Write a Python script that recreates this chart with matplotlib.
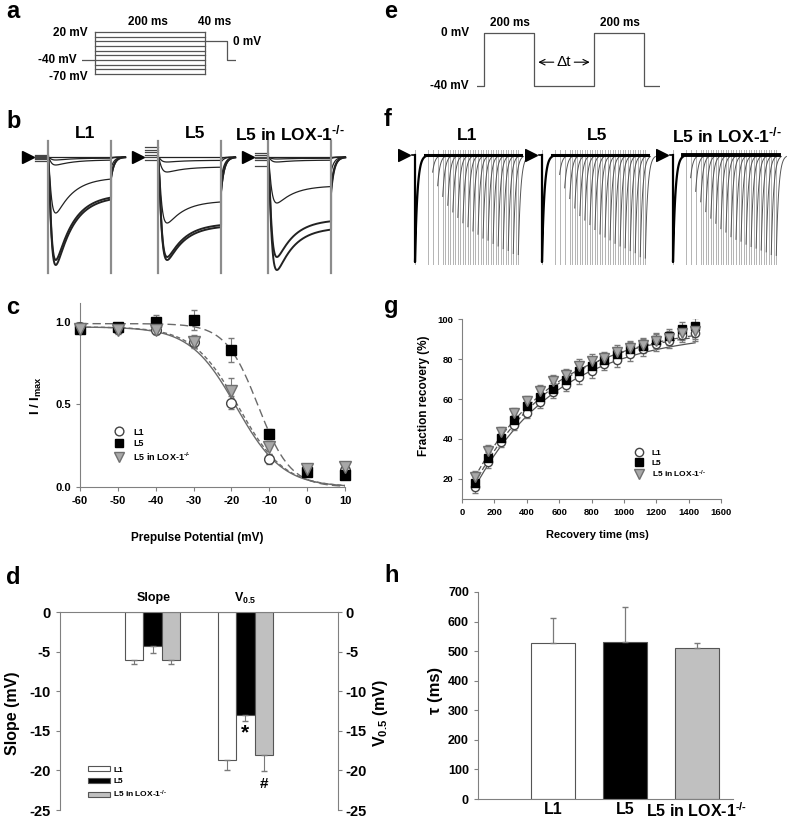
import numpy as np
import matplotlib
matplotlib.use("Agg")
import matplotlib.pyplot as plt
from matplotlib.patches import Patch

plt.rcParams.update({
    "font.family": ["Liberation Sans", "DejaVu Sans"],
    "font.weight": "bold",
    "axes.labelweight": "bold",
    "axes.unicode_minus": False,
    "mathtext.fontset": "custom",
    "mathtext.rm": "Liberation Sans",
    "mathtext.it": "Liberation Sans:bold",
    "mathtext.bf": "Liberation Sans:bold",
    "mathtext.default": "bf",
    "axes.edgecolor": "#808080",
    "xtick.color": "#808080",
    "ytick.color": "#808080",
    "xtick.labelcolor": "black",
    "ytick.labelcolor": "black",
})

GROUPS = ["L1", "L5", r"L5 in LOX-1$^{\text{-/-}}$"]
BAR_FACE = ["white", "black", "#c0c0c0"]
ERR = "#7a7a7a"

# a: steady-state inactivation protocol
prepulse_levels = [-70, -60, -50, -40, -30, -20, -10, 0, 10, 20]
hold_mv, test_mv = -40, 0
prepulse_ms, test_ms = 200, 40

# e: recovery protocol
pulse_ms, gap_ms = 200, 240

# b: representative current traces (peak depth, relative units)
trace_peaks = [[1.08, 1.03, 0.56, 0.08, 0.03, 0.0],
               [1.03, 1.00, 0.66, 0.15, 0.05, 0.0],
               [1.13, 1.00, 0.46, 0.05, 0.02, 0.0]]
trace_hold = [[0.02, 0.0, -0.02, -0.04, 0.01, -0.01],
              [0.10, 0.05, 0.0, -0.03, 0.07, 0.02],
              [0.04, 0.0, -0.03, -0.09, 0.02, -0.01]]
trace_resid = [0.24, 0.50, 0.46]

# c: steady-state inactivation
prepulse_mv = [-60, -50, -40, -30, -20, -10, 0, 10]
inact_l1 = [0.97, 0.96, 0.95, 0.88, 0.51, 0.17, 0.10, 0.10]
inact_l1_err = [0.02, 0.01, 0.02, 0.03, 0.04, 0.03, 0.02, 0.02]
inact_l5 = [0.96, 0.97, 1.00, 1.01, 0.83, 0.32, 0.09, 0.07]
inact_l5_err = [0.02, 0.01, 0.04, 0.06, 0.07, 0.03, 0.02, 0.02]
inact_lox = [0.96, 0.95, 0.95, 0.88, 0.58, 0.24, 0.11, 0.12]
inact_lox_err = [0.02, 0.02, 0.02, 0.04, 0.08, 0.04, 0.02, 0.02]
fit_top = [0.97, 0.99, 0.97]

# d: Boltzmann parameters
slope_mean = [-6.1, -4.3, -6.0]
slope_err = [0.5, 0.9, 0.6]
v05_mean = [-18.7, -13.0, -18.1]
v05_err = [1.2, 0.7, 2.0]

# g: recovery from inactivation
recovery_ms = [80, 160, 240, 320, 400, 480, 560, 640, 720, 800, 880, 960,
               1040, 1120, 1200, 1280, 1360, 1440]
rec_l1 = [16, 28.7, 38.7, 47, 53.2, 58.3, 63.3, 67, 71, 74, 77.6, 79.6,
          82.6, 85, 87.5, 89.2, 92, 93]
rec_l5 = [18.2, 30.7, 40.7, 49.5, 56.6, 60.8, 65, 69.6, 73.8, 76.6, 79.3, 82.5,
          85, 86.7, 89.3, 91.3, 95, 96.3]
rec_lox = [21.2, 34, 43.7, 52.9, 59, 63.8, 68.8, 72, 76.3, 78.8, 80.5, 83.3,
           85.5, 87, 88.8, 90.5, 93, 93.8]
rec_err = [3, 3, 2.5, 2.5, 2.5, 3, 3, 3, 3.5, 3.5, 3, 3.5, 3.5, 3.5, 3.5, 3.5, 3.5, 4]
rec_fit_y0 = [16, 18, 21]
rec_fit_amp = [78, 80, 75]

# h: recovery time constant
tau_mean = [527, 532, 511]
tau_err = [85, 117, 17]

W, H = 787, 825
fig = plt.figure(figsize=(W / 100, H / 100), dpi=100)


def box(x0, y0, x1, y1):
    return fig.add_axes([x0 / W, 1 - y1 / H, (x1 - x0) / W, (y1 - y0) / H])


def txt(x, y, s, size=8.5, ha="center", va="center", **kw):
    fig.text(x / W, 1 - y / H, s, fontsize=size, ha=ha, va=va, **kw)


for lab, x, y in [("a", 6, 12), ("b", 6, 121), ("c", 6, 308), ("d", 6, 577),
                  ("e", 384, 12), ("f", 384, 120), ("g", 384, 306), ("h", 384, 575)]:
    txt(x, y, lab, size=17, ha="left")

# ---------- a ----------
ax = box(82, 28, 236, 78)
ax.axis("off")
ax.set_xlim(-23.6, 256.4); ax.set_ylim(-78.6, 28.6)
pc = "#555555"
for v in prepulse_levels:
    ax.plot([0, prepulse_ms], [v, v], color=pc, lw=0.9)
for x in (0, prepulse_ms):
    ax.plot([x, x], [min(prepulse_levels), max(prepulse_levels)], color=pc, lw=0.9)
ax.plot([-23.6, 0], [hold_mv, hold_mv], color=pc, lw=0.9)
ax.plot([prepulse_ms, prepulse_ms + test_ms, prepulse_ms + test_ms, 254],
        [test_mv, test_mv, hold_mv, hold_mv], color=pc, lw=0.9)
txt(88, 33, "20 mV", ha="right")
txt(148, 22, "200 ms")
txt(215, 22, "40 ms")
txt(233, 42, "0 mV", ha="left")
txt(57, 60, "-40 mV")
txt(88, 77, "-70 mV", ha="right")

# ---------- e ----------
ax = box(477, 28, 660, 92)
ax.axis("off")
ax.set_xlim(-28, 704); ax.set_ylim(-44.5, 3.8)
t2 = pulse_ms + gap_ms
ax.plot([-28, 0, 0, pulse_ms, pulse_ms, t2, t2, t2 + pulse_ms, t2 + pulse_ms, 700],
        [hold_mv, hold_mv, 0, 0, hold_mv, hold_mv, 0, 0, hold_mv, hold_mv],
        color=pc, lw=0.9)
ax.text((pulse_ms + t2) / 2, -22, "Δt", ha="center", va="center", fontsize=11,
        fontweight="normal")
ax.annotate("", xy=(pulse_ms + 6, -22), xytext=(290, -22),
            arrowprops=dict(arrowstyle="->", lw=0.8, color="k"))
ax.annotate("", xy=(t2 - 6, -22), xytext=(350, -22),
            arrowprops=dict(arrowstyle="->", lw=0.8, color="k"))
txt(469, 33, "0 mV", ha="right")
txt(469, 86, "-40 mV", ha="right")
txt(510, 23, "200 ms")
txt(620, 23, "200 ms")

# ---------- b ----------
t_on = np.linspace(0, test_ms, 300)
t_off = np.linspace(test_ms, 49, 60)
for k, left in enumerate([15, 125, 235]):
    ax = box(left, 138, left + 120, 280)
    ax.axis("off")
    ax.set_xlim(-20.95, 55.2); ax.set_ylim(-1.23, 0.19)
    for amp, hold in zip(trace_peaks[k], trace_hold[k]):
        act = (1 - np.exp(-t_on / 1.6)) ** 2
        shape = act * (trace_resid[k] + (1 - trace_resid[k]) * np.exp(-t_on / 11.0))
        cur = -amp * shape / shape.max()
        tail = cur[-1] * 0.5 * np.exp(-(t_off - test_ms) / 2.0)
        ax.plot([-8, 0], [hold, hold], color="#444444", lw=0.9)
        ax.plot(np.r_[t_on, t_off], np.r_[cur, tail], color="#222222",
                lw=1.4 if amp > 0.9 else 0.9)
    for x in (0, test_ms):
        ax.plot([x, x], [0.16, -1.16], color="#8c8c8c", lw=1.6)
    ax.plot([-13], [0], marker=">", color="k", ms=8, ls="none")
txt(85, 133, GROUPS[0], size=12.5)
txt(195, 133, GROUPS[1], size=12.5)
txt(290, 133, GROUPS[2], size=12.5)

# ---------- f ----------
onsets = pulse_ms + np.array(recovery_ms)
t_p = np.linspace(0, 160, 70)
for k, (left, frac) in enumerate(zip([398, 525, 656], [rec_l1, rec_l5, rec_lox])):
    ax = box(left, 138, left + 137, 275)
    ax.axis("off")
    ax.set_xlim(-270, 1905); ax.set_ylim(-1.121, 0.159)
    offs = onsets + pulse_ms
    for x in np.r_[0, pulse_ms, onsets, offs[offs < onsets[-1]]]:
        ax.plot([x, x], [0.05, -1.02], color="#b4b4b4", lw=0.7)
    for on, f in zip(onsets, frac):
        ax.plot(on + t_p, -f / 100 * np.exp(-t_p / 38), color="#555555", lw=0.7)
    ax.plot([-40, 0], [0, 0], color="k", lw=1.2)
    ax.plot(np.r_[0, t_p], np.r_[0, -np.exp(-t_p / 38)], color="k", lw=1.6)
    ax.plot([t_p[-1], onsets[-1] + 40], [0, 0], color="k", lw=2.8 if k == 2 else 2.2)
    ax.plot([-170], [0], marker=">", color="k", ms=8, ls="none")
txt(467, 135, GROUPS[0], size=12.5)
txt(597, 135, GROUPS[1], size=12.5)
txt(727, 135, GROUPS[2], size=12.5)

# ---------- c ----------
ax = box(80, 303, 345, 487)
styles = [dict(marker="o", mfc="white", mec="#444444", ms=7),
          dict(marker="s", mfc="black", mec="black", ms=6.5),
          dict(marker="v", mfc="#a8a8a8", mec="#707070", ms=8)]
fit_ls = ["-", (0, (6, 3)), (0, (3, 2))]
V = np.linspace(-60, 10, 300)
handles = []
for i, (y, e) in enumerate([(inact_l1, inact_l1_err), (inact_l5, inact_l5_err),
                            (inact_lox, inact_lox_err)]):
    ax.plot(V, fit_top[i] / (1 + np.exp(-(V - v05_mean[i]) / slope_mean[i])),
            color="#6a6a6a", lw=1.0, ls=fit_ls[i])
    ax.errorbar(prepulse_mv, y, yerr=e, fmt="none", ecolor=ERR, elinewidth=0.8,
                capsize=2.5, clip_on=False)
for i, y in enumerate([inact_l1, inact_l5, inact_lox]):
    h, = ax.plot(prepulse_mv, y, ls="none", clip_on=False, zorder=5, **styles[i])
    handles.append(h)
ax.set_xlim(-60, 10); ax.set_ylim(0, 1.115)
ax.set_xticks(range(-60, 11, 10))
ax.set_yticks([0, 0.5, 1.0]); ax.set_yticklabels(["0.0", "0.5", "1.0"])
ax.tick_params(labelsize=8, length=3)
for s in ("top", "right"):
    ax.spines[s].set_visible(False)
ax.legend(handles, GROUPS, loc="upper left", bbox_to_anchor=(106 / W, 1 - 424 / H),
          bbox_transform=fig.transFigure, frameon=False, fontsize=6.5,
          handletextpad=0.6, labelspacing=0.25, markerscale=0.9, borderaxespad=0)
txt(36, 395, "I / I$_{max}$", size=9.5, rotation=90)
txt(197, 538, "Prepulse Potential (mV)", size=8.5)

# ---------- g ----------
ax = box(462, 319, 721, 499)
tt = np.linspace(recovery_ms[0], recovery_ms[-1], 200)
rec_ls = ["-", (0, (4, 2)), (0, (4, 2))]
handles = []
for i, y in enumerate([rec_l1, rec_l5, rec_lox]):
    ax.plot(tt, rec_fit_y0[i] + rec_fit_amp[i] * (1 - np.exp(-(tt - recovery_ms[0]) / tau_mean[i])),
            color="#555555", lw=0.9, ls=rec_ls[i])
    ax.errorbar(recovery_ms, y, yerr=rec_err, fmt="none", ecolor=ERR, elinewidth=0.8,
                capsize=2.2)
for i, y in enumerate([rec_l1, rec_l5, rec_lox]):
    st = dict(styles[i]); st["ms"] = st["ms"] * 0.85
    h, = ax.plot(recovery_ms, y, ls="none", zorder=5, **st)
    handles.append(h)
ax.set_xlim(0, 1600); ax.set_ylim(10, 100)
ax.set_xticks(range(0, 1601, 200)); ax.set_yticks(range(20, 101, 20))
ax.tick_params(labelsize=6.8, length=3)
for s in ("top", "right"):
    ax.spines[s].set_visible(False)
ax.legend(handles, GROUPS, loc="upper left", bbox_to_anchor=(627 / W, 1 - 446 / H),
          bbox_transform=fig.transFigure, frameon=False, fontsize=6,
          handletextpad=0.6, labelspacing=0.2, borderaxespad=0)
txt(424, 396, "Fraction recovery (%)", size=8.5, rotation=90)
txt(597, 535, "Recovery time (ms)", size=8)

# ---------- d ----------
ax = box(60, 612, 338, 810)
offs = [-0.4, 0, 0.4]
for i in range(3):
    ax.bar(2 + offs[i], slope_mean[i], 0.4, yerr=[[slope_err[i]], [0]],
           color=BAR_FACE[i], edgecolor="#555555", lw=0.8,
           error_kw=dict(ecolor=ERR, elinewidth=0.8, capsize=2.5))
    ax.bar(4 + offs[i], v05_mean[i], 0.4, yerr=[[v05_err[i]], [0]],
           color=BAR_FACE[i], edgecolor="#555555", lw=0.8,
           error_kw=dict(ecolor=ERR, elinewidth=0.8, capsize=2.5))
ax.set_xlim(0, 6); ax.set_ylim(-25, 0)
ax.set_xticks([])
ax.set_yticks(range(-25, 1, 5))
ax.spines["bottom"].set_visible(False)
ax.spines["right"].set_visible(False)
ax.tick_params(labelsize=10.5, length=3)
ax2 = ax.twinx()
ax2.set_ylim(-25, 0)
ax2.set_yticks(range(-25, 1, 5))
for s in ("top", "bottom", "left"):
    ax2.spines[s].set_visible(False)
ax2.tick_params(labelsize=10.5, length=3, pad=2)
ax.text(4, v05_mean[1] - v05_err[1] - 1.6, "*", ha="center", va="center", fontsize=15)
ax.text(4.4, v05_mean[2] - v05_err[2] - 1.6, "#", ha="center", va="center", fontsize=11)
ax.legend([Patch(facecolor=c, edgecolor="#555555", lw=0.8) for c in BAR_FACE], GROUPS,
          loc="upper left", bbox_to_anchor=(85 / W, 1 - 763 / H),
          bbox_transform=fig.transFigure, frameon=False, fontsize=6,
          handlelength=2.6, handleheight=0.55, handletextpad=0.4,
          labelspacing=0.45, borderaxespad=0)
txt(154, 598, "Slope", size=9)
txt(245, 598, "V$_{0.5}$", size=9)
txt(13, 713, "Slope (mV)", size=11.5, rotation=90)
txt(381, 713, "V$_{0.5}$ (mV)", size=11.5, rotation=90)

# ---------- h ----------
ax = box(478, 592, 733, 799)
ax.bar(range(3), tau_mean, 0.6, yerr=[[0, 0, 0], tau_err], color=BAR_FACE,
       edgecolor="#555555", lw=0.8,
       error_kw=dict(ecolor=ERR, elinewidth=0.9, capsize=2.5))
ax.set_xlim(-1.04, 2.5); ax.set_ylim(0, 700)
ax.set_yticks(range(0, 701, 100))
ax.set_xticks(range(3)); ax.set_xticklabels(GROUPS, fontsize=11.5)
ax.tick_params(axis="x", length=0, pad=2)
ax.tick_params(axis="y", labelsize=9, length=3)
for s in ("top", "right"):
    ax.spines[s].set_visible(False)
txt(435, 690, "τ (ms)", size=12, rotation=90)

fig.savefig("out.png", dpi=100)
